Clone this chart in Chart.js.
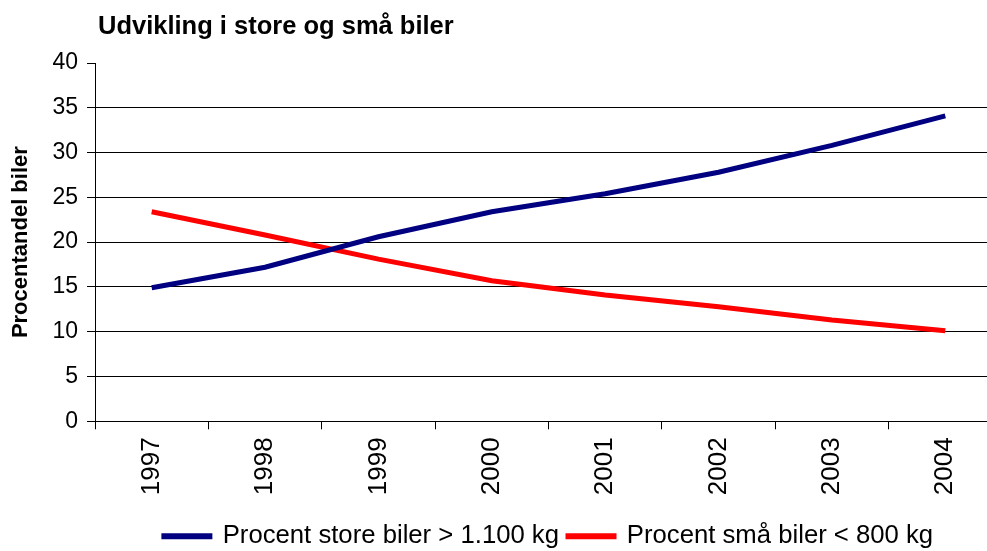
<!DOCTYPE html>
<html>
<head>
<meta charset="utf-8">
<script src="https://cdn.jsdelivr.net/npm/chart.js@4.4.0/dist/chart.umd.min.js"></script>
<style>
  html, body { margin: 0; padding: 0; background: #fff; overflow: hidden; }
  #wrap { width: 1084px; height: 551px; }
</style>
</head>
<body>
<div id="wrap"><canvas id="bilChart"></canvas></div>
<script>
// data
const years = ['1997', '1998', '1999', '2000', '2001', '2002', '2003', '2004'];
const storeBiler = [14.9, 17.2, 20.6, 23.4, 25.4, 27.8, 30.8, 34.1];
const smaaBiler = [23.4, 20.8, 18.1, 15.7, 14.1, 12.8, 11.3, 10.1];
const yTicks = [0, 5, 10, 15, 20, 25, 30, 35, 40];

const chartTitle = 'Udvikling i store og små biler';
const fontFam = '"Liberation Sans", Arial, sans-serif';

// title sits over the left edge of the plot, like the original
const titlePlugin = {
    id: 'leftTitle',
    afterDraw(chart) {
        const c = chart.ctx;
        c.save();
        c.font = 'bold 25.5px ' + fontFam;
        c.fillStyle = '#000';
        c.textBaseline = 'alphabetic';
        c.fillText(chartTitle, chart.chartArea.left + 3, 34);
        c.restore();
    }
};

window.onload = function() {
    const ctx = document.getElementById('bilChart').getContext('2d');
    new Chart(ctx, {
        type: 'line',
        data: {
            labels: years,
            datasets: [{
                label: 'Procent store biler > 1.100 kg',
                data: storeBiler,
                borderColor: '#000080',
                backgroundColor: '#000080',
                borderWidth: 5,
                pointRadius: 0,
                tension: 0
            }, {
                label: 'Procent små biler < 800 kg',
                data: smaaBiler,
                borderColor: '#ff0000',
                backgroundColor: '#ff0000',
                borderWidth: 5,
                pointRadius: 0,
                tension: 0
            }]
        },
        options: {
            responsive: true,
            maintainAspectRatio: false,
            animation: false,
            // the original picture is cut off at the right, so the plot runs past the window
            layout: { padding: { top: 63, left: 4, right: 82, bottom: -8 } },
            plugins: {
                legend: {
                    position: 'bottom',
                    fullSize: false,
                    labels: {
                        color: '#000',
                        font: { size: 25.7, family: fontFam },
                        boxWidth: 46,
                        boxHeight: 1,
                        padding: 9
                    }
                },
                tooltip: { enabled: false }
            },
            scales: {
                x: {
                    offset: true,
                    grid: {
                        offset: true,
                        drawOnChartArea: false,
                        tickLength: 8,
                        tickColor: '#000'
                    },
                    border: { color: '#000', width: 1 },
                    ticks: {
                        color: '#000',
                        maxRotation: 90,
                        minRotation: 90,
                        padding: 8,
                        font: { size: 26, family: fontFam }
                    },
                    afterFit(scale) { scale.height = 93; }
                },
                y: {
                    min: 0,
                    max: 40,
                    afterBuildTicks(scale) { scale.ticks = yTicks.map(v => ({ value: v })); },
                    grid: {
                        color: c => c.tick && c.tick.value === 40 ? 'rgba(0,0,0,0)' : '#000',
                        tickColor: '#000',
                        tickLength: 8,
                        lineWidth: 1
                    },
                    border: { color: '#000', width: 1 },
                    ticks: {
                        color: '#000',
                        padding: 9,
                        font: { size: 23, family: fontFam }
                    },
                    title: {
                        display: true,
                        text: 'Procentandel biler',
                        color: '#000',
                        font: { size: 22, weight: 'bold', family: fontFam },
                        padding: { top: 4, bottom: 0 }
                    },
                    afterFit(scale) { scale.width = 91; }
                }
            }
        },
        plugins: [titlePlugin]
    });
};
</script>
</body>
</html>
